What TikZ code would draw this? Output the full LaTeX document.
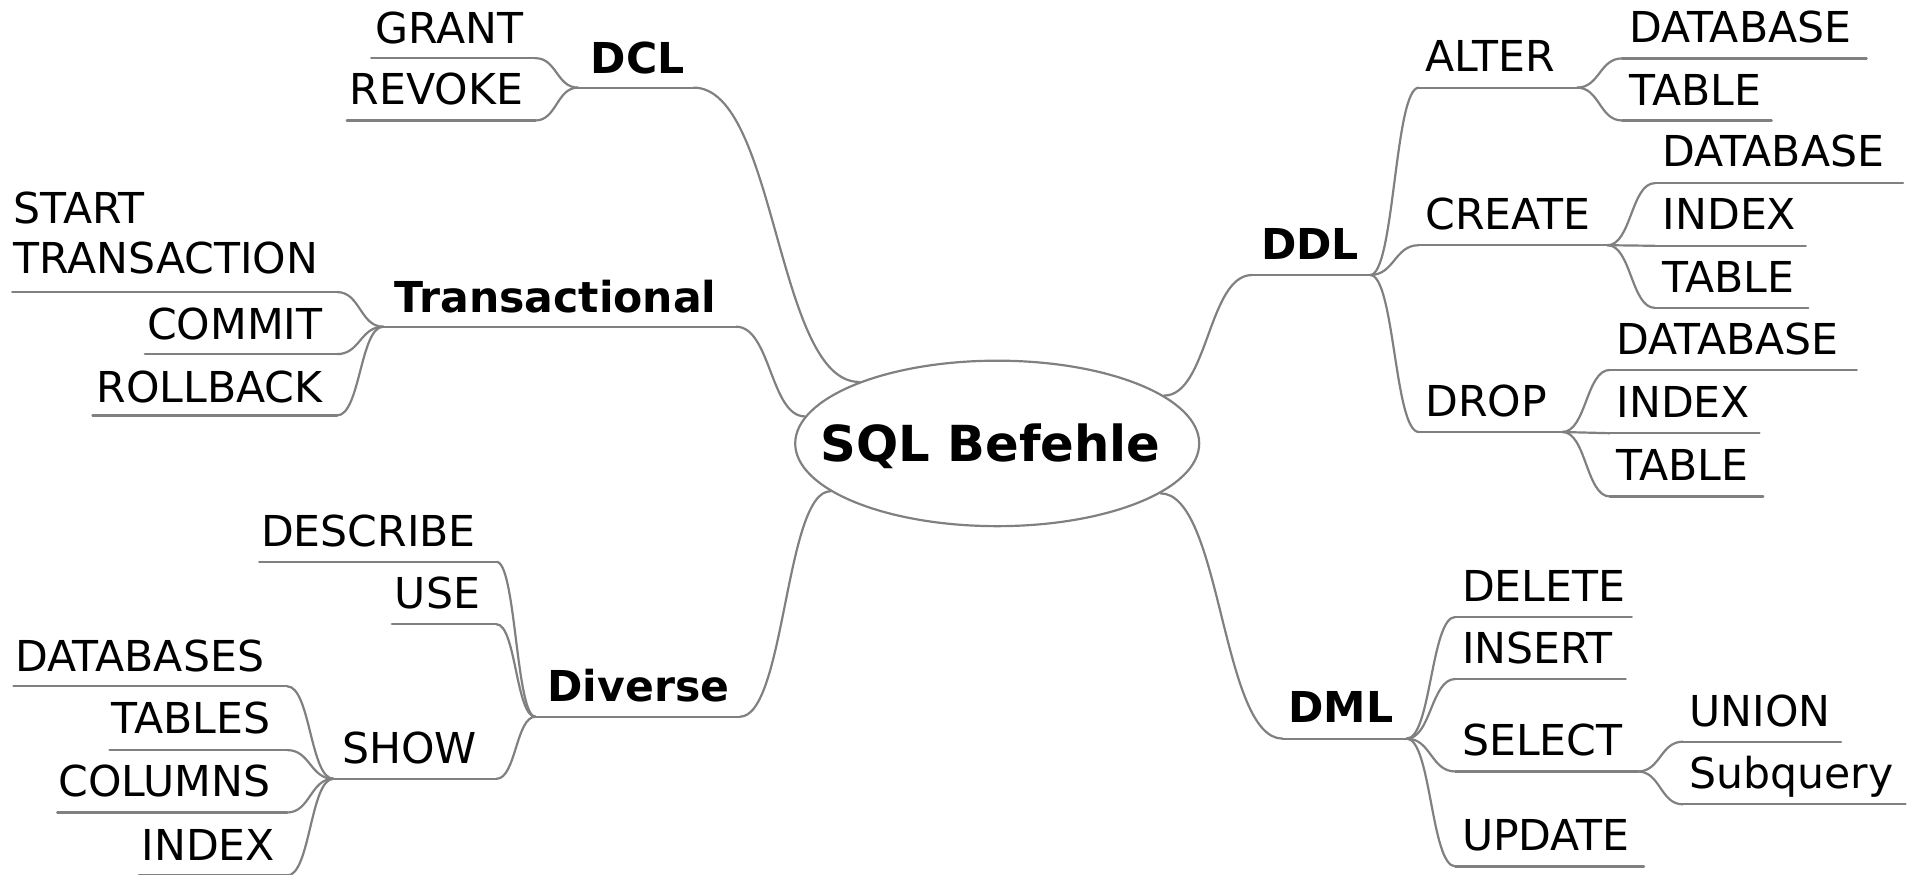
\documentclass[tikz,border=0pt]{standalone}
\usepackage{fontspec}
\setmainfont{DejaVu Sans}
\usetikzlibrary{shapes.geometric,calc}
\definecolor{edgegray}{RGB}{128,128,128}
% style, name, text x, baseline, underline y, underline x1, underline x2, text
\newcommand\mmR[8]{%
  \node[#1, anchor=base west] (#2) at (#3,#4) {#8};
  \coordinate (#2L) at (#6,#5);
  \coordinate (#2R) at (#7,#5);
  \draw[uline] (#2L) -- (#2R);
}
\newcommand\mmL[8]{%
  \node[#1, anchor=base east] (#2) at (#3,#4) {#8};
  \coordinate (#2L) at (#6,#5);
  \coordinate (#2R) at (#7,#5);
  \draw[uline] (#2L) -- (#2R);
}
\begin{document}
\begin{tikzpicture}[x={(0.5pt,0pt)}, y={(0pt,-0.5pt)},
  uline/.style={draw=edgegray, line width=0.9pt, line cap=round},
  edge/.style={draw=edgegray, line width=0.9pt, line cap=round},
  hcurve/.style={to path={let \p1=(\tikztostart), \p2=(\tikztotarget) in
      .. controls ({0.5*(\x1+\x2)},\y1) and ({0.5*(\x1+\x2)},\y2) .. (\tikztotarget)}},
  topic/.style={inner sep=0pt, outer sep=0pt, font=\fontsize{17.5}{20.5}\selectfont},
  branch/.style={inner sep=0pt, outer sep=0pt, font=\fontsize{17.5}{20.5}\selectfont\bfseries},
  ]
\useasboundingbox (0,0) rectangle (1568,718.3);

% root
\node[draw=edgegray, line width=0.9pt, ellipse, minimum width=166pt, minimum height=68pt, inner sep=0pt] (root) at (819.5,364.4) {};
\node[font=\fontsize{20.4}{24}\selectfont\bfseries, inner sep=0pt, anchor=base] (rootlabel) at (814,379.6) {SQL Befehle};

% right side: DDL
\mmR{branch}{ddl}{1036.5}{213}{226}{1029}{1126}{DDL}
\mmR{topic}{alter}{1171.5}{58.7}{72}{1166}{1296}{ALTER}
\mmR{topic}{altdb}{1339}{35}{48}{1333}{1534}{DATABASE}
\mmR{topic}{alttb}{1339}{87}{99}{1333}{1456}{TABLE}
\mmR{topic}{create}{1171.5}{188.4}{201.5}{1166}{1321}{CREATE}
\mmR{topic}{credb}{1366}{137}{150.5}{1360}{1564}{DATABASE}
\mmR{topic}{creidx}{1366.5}{188.4}{202}{1360}{1484}{INDEX}
\mmR{topic}{cretb}{1366.5}{240}{253}{1360}{1486}{TABLE}
\mmR{topic}{drop}{1171.5}{342}{355}{1166}{1284}{DROP}
\mmR{topic}{drpdb}{1328.5}{291}{304}{1323}{1526}{DATABASE}
\mmR{topic}{drpidx}{1328.5}{343}{356}{1323}{1446}{INDEX}
\mmR{topic}{drptb}{1328.5}{395}{408}{1323}{1449}{TABLE}

% right side: DML
\mmR{branch}{dml}{1059}{594}{607}{1054}{1156}{DML}
\mmR{topic}{del}{1201.5}{494}{507}{1196}{1341}{DELETE}
\mmR{topic}{ins}{1201.5}{545}{558}{1196}{1336}{INSERT}
\mmR{topic}{sel}{1201.5}{620.5}{634}{1196}{1346}{SELECT}
\mmR{topic}{uni}{1388.5}{597}{609.5}{1383}{1513}{UNION}
\mmR{topic}{sub}{1388.5}{648}{661}{1383}{1566}{Subquery}
\mmR{topic}{upd}{1201.5}{699}{712}{1196}{1351}{UPDATE}

% left side: DCL
\mmR{branch}{dcl}{485.5}{60}{72}{475}{570}{DCL}
\mmL{topic}{grant}{430}{35.5}{47.8}{305}{440}{GRANT}
\mmL{topic}{revoke}{430}{86}{99}{285}{440}{REVOKE}

% left side: Transactional
\mmR{branch}{trans}{324.5}{256.7}{268.5}{315}{605}{Transactional}
\mmR{topic}{start}{11}{225}{240}{10}{277}{\begin{tabular}[b]{@{}l@{}}START\\TRANSACTION\end{tabular}}
\mmL{topic}{commit}{265}{278.6}{291}{119}{277}{COMMIT}
\mmL{topic}{rollback}{265}{330.5}{341.4}{76}{277}{ROLLBACK}

% left side: Diverse
\mmR{branch}{div}{450}{576.7}{589}{440}{608}{Diverse}
\mmL{topic}{desc}{391}{448.8}{461.7}{213}{408}{DESCRIBE}
\mmL{topic}{use}{394.5}{500}{513}{322}{408}{USE}
\mmL{topic}{show}{392}{627.3}{640}{274}{408}{SHOW}
\mmL{topic}{dbs}{217}{552}{564}{11}{236}{DATABASES}
\mmL{topic}{tbls}{222}{602.7}{616.4}{90}{236}{TABLES}
\mmL{topic}{cols}{222}{654.7}{667.7}{47}{236}{COLUMNS}
\mmL{topic}{idx}{226}{706.8}{719.5}{114}{236}{INDEX}

% connectors
\draw[edge] (root.156) to[hcurve] (dclR);
\draw[edge] (root.172) to[hcurve] (transR);
\draw[edge] (root.196) to[hcurve] (divR);
\draw[edge] (root.16) to[hcurve] (ddlL);
\draw[edge] (root.343) to[hcurve] (dmlL);

\draw[edge] (dclL) to[hcurve] (grantR);
\draw[edge] (dclL) to[hcurve] (revokeR);

\draw[edge] (transL) to[hcurve] (startR);
\draw[edge] (transL) to[hcurve] (commitR);
\draw[edge] (transL) to[hcurve] (rollbackR);

\draw[edge] (divL) to[hcurve] (descR);
\draw[edge] (divL) to[hcurve] (useR);
\draw[edge] (divL) to[hcurve] (showR);
\draw[edge] (showL) to[hcurve] (dbsR);
\draw[edge] (showL) to[hcurve] (tblsR);
\draw[edge] (showL) to[hcurve] (colsR);
\draw[edge] (showL) to[hcurve] (idxR);

\draw[edge] (ddlR) to[hcurve] (alterL);
\draw[edge] (ddlR) to[hcurve] (createL);
\draw[edge] (ddlR) to[hcurve] (dropL);
\draw[edge] (alterR) to[hcurve] (altdbL);
\draw[edge] (alterR) to[hcurve] (alttbL);
\draw[edge] (createR) to[hcurve] (credbL);
\draw[edge] (createR) to[hcurve] (creidxL);
\draw[edge] (createR) to[hcurve] (cretbL);
\draw[edge] (dropR) to[hcurve] (drpdbL);
\draw[edge] (dropR) to[hcurve] (drpidxL);
\draw[edge] (dropR) to[hcurve] (drptbL);

\draw[edge] (dmlR) to[hcurve] (delL);
\draw[edge] (dmlR) to[hcurve] (insL);
\draw[edge] (dmlR) to[hcurve] (selL);
\draw[edge] (dmlR) to[hcurve] (updL);
\draw[edge] (selR) to[hcurve] (uniL);
\draw[edge] (selR) to[hcurve] (subL);
\end{tikzpicture}
\end{document}
